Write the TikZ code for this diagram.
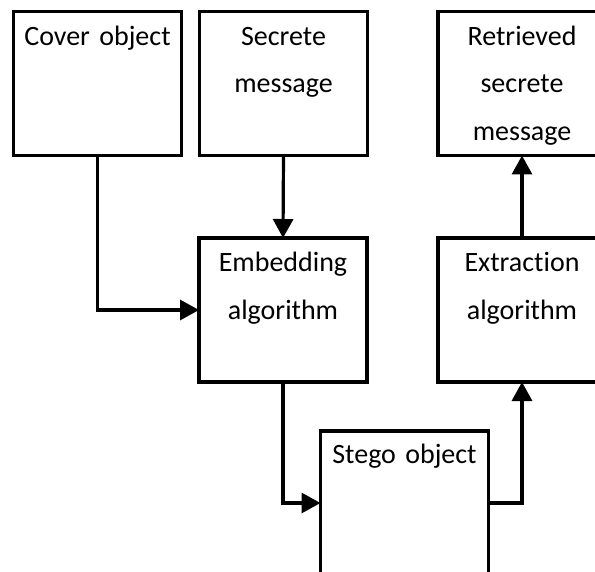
\documentclass[tikz,border=0pt]{standalone}
\usepackage{fontspec}
\setmainfont{Carlito}[RawFeature=-liga]
\usetikzlibrary{arrows.meta}
\begin{document}
\begin{tikzpicture}[x=1pt,y=-1pt,
  box/.style={draw, line width=3.3pt, minimum width=168pt, minimum height=144pt, inner sep=0pt, outer sep=0pt},
  txt/.style={anchor=base, inner sep=0pt, text width=160pt, align=center, font=\fontsize{28}{47.5}\selectfont},
  conn/.style={line width=3.2pt, -{Triangle[length=19pt,width=20pt]}}]
\useasboundingbox (0,0) rectangle (595,572);
\clip (0,0) rectangle (595,572);
\fill[white] (0,0) rectangle (595,572);
\node[box] (cover) at (97.5,83.5) {};
\node[box] (secret) at (283.5,83.5) {};
\node[box] (retr) at (522,83.5) {};
\node[box] (embed) at (283,310) {};
\node[box] (extr) at (522,310) {};
\node[box] (stego) at (404.5,503) {};
\node[txt] (tcover) at ([yshift=-34pt]cover.north) {Cover object};
\node[txt] (tsecret) at ([yshift=-34pt]secret.north) {Secrete\\message};
\node[txt] (tretr) at ([yshift=-34pt]retr.north) {Retrieved\\secrete\\message};
\node[txt] (tembed) at ([yshift=-34pt]embed.north) {Embedding\\algorithm};
\node[txt] (textr) at ([yshift=-34pt]extr.north) {Extraction\\algorithm};
\node[txt] (tstego) at ([yshift=-32pt]stego.north) {Stego object};
\draw[conn] (cover.south) |- (embed.west);
\draw[conn] (secret.south) -- (embed.north);
\draw[conn] (embed.south) |- (stego.west);
\draw[conn] (stego.east) -| (extr.south);
\draw[conn] (extr.north) -- (retr.south);
\end{tikzpicture}
\end{document}
